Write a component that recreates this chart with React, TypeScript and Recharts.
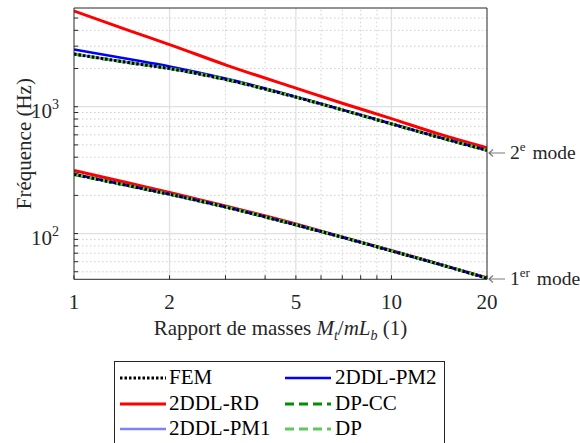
import React from "react";
import { LineChart, Line, XAxis, YAxis, ReferenceLine } from "recharts";

// rapport de masses Mt/mLb
const massRatio = [1, 1.5, 2, 3, 5, 7, 10, 14, 20];

// 1er mode (Hz)
const femMode1 = [293, 237, 204, 162, 117, 93.5, 73, 57.7, 44.5];
const rdMode1 = [314, 249, 211, 165, 119, 94, 73.5, 58, 44.7];
const pm1Mode1 = [293, 237, 204, 162, 117, 93.5, 73, 57.7, 44.5];
const pm2Mode1 = [294, 237, 204, 162, 117, 93.5, 73, 57.7, 44.5];
const dpccMode1 = [293, 237, 204, 162, 117, 93.5, 73, 57.7, 44.5];
const dpMode1 = [293, 237, 204, 162, 117, 93.5, 73, 57.7, 44.5];

// 2e mode (Hz)
const femMode2 = [2600, 2220, 2000, 1640, 1190, 944, 732, 577, 453];
const rdMode2 = [5680, 3960, 3090, 2140, 1400, 1065, 805, 613, 475];
const pm1Mode2 = [2600, 2220, 2000, 1640, 1190, 944, 732, 577, 453];
const pm2Mode2 = [2830, 2370, 2080, 1670, 1200, 948, 735, 578, 454];
const dpccMode2 = [2600, 2220, 2000, 1640, 1190, 944, 732, 577, 453];
const dpMode2 = [2600, 2220, 2000, 1640, 1190, 944, 732, 577, 453];

const xTicks = [1, 2, 3, 4, 5, 6, 7, 8, 9, 10, 20];
const xTickLabels = [1, 2, 5, 10, 20];
const yTicks = [50, 60, 70, 80, 90, 100, 200, 300, 400, 500, 600, 700, 800, 900, 1000, 2000, 3000, 4000, 5000];
const yTickLabels = [100, 1000];

const xMajorGrid = [2, 5, 10];
const xMinorGrid = [3, 4, 6, 7, 8, 9];
const yMajorGrid = [100, 1000];
const yMinorGrid = [50, 60, 70, 80, 90, 200, 300, 400, 500, 600, 700, 800, 900, 2000, 3000, 4000, 5000];

const data = massRatio.map((x, i) => ({
  x,
  fem1: femMode1[i],
  fem2: femMode2[i],
  rd1: rdMode1[i],
  rd2: rdMode2[i],
  pm11: pm1Mode1[i],
  pm12: pm1Mode2[i],
  pm21: pm2Mode1[i],
  pm22: pm2Mode2[i],
  dpcc1: dpccMode1[i],
  dpcc2: dpccMode2[i],
  dp1: dpMode1[i],
  dp2: dpMode2[i],
}));

type Serie = { key: string; name: string; color: string; width: number; dash?: string };

// drawing order (FEM last so the dots sit on top)
const series: Serie[] = [
  { key: "rd", name: "2DDL-RD", color: "#ff0000", width: 3 },
  { key: "pm1", name: "2DDL-PM1", color: "#8080ff", width: 2.5 },
  { key: "pm2", name: "2DDL-PM2", color: "#0000ff", width: 2.5 },
  { key: "dpcc", name: "DP-CC", color: "#008f00", width: 3, dash: "9 5" },
  { key: "dp", name: "DP", color: "#5fc85f", width: 3, dash: "9 5" },
  { key: "fem", name: "FEM", color: "#000000", width: 3, dash: "2.5 2" },
];

const legendCols = [
  ["fem", "rd", "pm1"],
  ["pm2", "dpcc", "dp"],
];

const FONT = '"Liberation Serif", "Times New Roman", serif';
const INK = "#262626";

const YTick = (props: any) => {
  const { x, y, payload } = props;
  if (!yTickLabels.includes(payload.value)) return null;
  const exp = Math.round(Math.log10(payload.value));
  return (
    <text x={x} y={y + 11} textAnchor="end" fontSize={21} fill={INK} fontFamily={FONT}>
      10<tspan dy={-9} fontSize={14}>{exp}</tspan>
    </text>
  );
};

const YLabel = (props: any) => {
  const vb = props.viewBox || { x: 0, y: 0, width: 74, height: 271 };
  const cx = vb.x + 31.5;
  const cy = vb.y + vb.height / 2;
  return (
    <text
      x={cx}
      y={cy}
      textAnchor="middle"
      fontSize={21}
      fill={INK}
      fontFamily={FONT}
      transform={`rotate(-90, ${cx}, ${cy})`}
    >
      Fréquence (Hz)
    </text>
  );
};

const XLabel = (props: any) => {
  const vb = props.viewBox || { x: 74, y: 279, width: 413, height: 60 };
  const cx = vb.x + vb.width / 2;
  const y = vb.y + 56;
  return (
    <text x={cx} y={y} textAnchor="middle" fontSize={21} fill={INK} fontFamily={FONT}>
      Rapport de masses <tspan fontStyle="italic">M</tspan>
      <tspan fontStyle="italic" fontSize={14} dy={5}>t</tspan>
      <tspan dy={-5}>/</tspan>
      <tspan fontStyle="italic">mL</tspan>
      <tspan fontStyle="italic" fontSize={14} dy={5}>b</tspan>
      <tspan dy={-5}> (1)</tspan>
    </text>
  );
};

function LegendBox() {
  const rowY = [16, 42, 67];
  const colX = [{ line: 5, text: 54 }, { line: 170, text: 220 }];
  return (
    <div
      style={{
        position: "absolute",
        left: 114,
        top: 361,
        width: 329,
        height: 100,
        border: `1px solid ${INK}`,
        background: "#fff",
      }}
    >
      {legendCols.map((col, ci) =>
        col.map((key, ri) => {
          const s = series.find((d) => d.key === key)!;
          return (
            <React.Fragment key={key}>
              <svg
                width={46}
                height={8}
                style={{ position: "absolute", left: colX[ci].line, top: rowY[ri] - 4 }}
              >
                <line
                  x1={0}
                  y1={4}
                  x2={46}
                  y2={4}
                  stroke={s.color}
                  strokeWidth={s.width}
                  strokeDasharray={s.dash}
                />
              </svg>
              <div
                style={{
                  position: "absolute",
                  left: colX[ci].text,
                  top: rowY[ri] - 10.6,
                  fontSize: 21,
                  lineHeight: "21px",
                  fontFamily: FONT,
                  color: "#000",
                  whiteSpace: "nowrap",
                }}
              >
                {s.name}
              </div>
            </React.Fragment>
          );
        })
      )}
    </div>
  );
}

function ModeNotes() {
  const notes = [
    { arrowY: 153, num: "2", sup: "e" },
    { arrowY: 279, num: "1", sup: "er" },
  ];
  return (
    <svg width={580} height={443} style={{ position: "absolute", left: 0, top: 0, pointerEvents: "none" }}>
      {notes.map((n) => (
        <g key={n.num} fontFamily={FONT}>
          <path
            d={`M489 ${n.arrowY} H505 M493 ${n.arrowY - 3.5} L489 ${n.arrowY} L493 ${n.arrowY + 3.5}`}
            stroke="#7a7a7a"
            strokeWidth={1.2}
            fill="none"
          />
          <text x={510} y={n.arrowY + 6} fontSize={19.5} fill={INK}>
            {n.num}
            <tspan dy={-8} fontSize={13}>{n.sup}</tspan>
            <tspan dy={8} dx={2}> mode</tspan>
          </text>
        </g>
      ))}
    </svg>
  );
}

export default function App() {
  return (
    <div
      style={{
        position: "absolute",
        left: 0,
        top: 0,
        width: 580,
        height: 443,
        overflow: "hidden",
        background: "#fff",
        fontFamily: FONT,
      }}
    >
      <LineChart width={580} height={443} data={data} margin={{ top: 7, right: 92, bottom: 103.7, left: 0 }}>
        <XAxis
          dataKey="x"
          type="number"
          scale="log"
          domain={[1, 20]}
          ticks={xTicks}
          interval={0}
          tickFormatter={(v: number) => (xTickLabels.includes(v) ? String(v) : "")}
          tickSize={-4}
          tickMargin={19}
          height={60}
          stroke={INK}
          tick={{ fill: INK, fontSize: 21, fontFamily: FONT }}
          allowDataOverflow
          label={<XLabel />}
        />
        <XAxis
          xAxisId="top"
          dataKey="x"
          type="number"
          scale="log"
          domain={[1, 20]}
          ticks={xTicks}
          interval={0}
          orientation="top"
          height={1}
          tickSize={-4}
          tick={false}
          stroke={INK}
          allowDataOverflow
        />
        <YAxis
          type="number"
          scale="log"
          domain={[43.6, 6000]}
          ticks={yTicks}
          interval={0}
          width={74}
          tickSize={-4}
          tickMargin={19}
          stroke={INK}
          tick={YTick}
          allowDataOverflow
          label={<YLabel />}
        />
        <YAxis
          yAxisId="r"
          type="number"
          scale="log"
          domain={[43.6, 6000]}
          ticks={yTicks}
          interval={0}
          orientation="right"
          width={1}
          tickSize={-4}
          tick={false}
          stroke={INK}
          allowDataOverflow
        />
        {xMinorGrid.map((v) => (
          <ReferenceLine key={`xm${v}`} x={v} stroke="#cfcfcf" strokeDasharray="1.5 2.5" />
        ))}
        {yMinorGrid.map((v) => (
          <ReferenceLine key={`ym${v}`} y={v} stroke="#cfcfcf" strokeDasharray="1.5 2.5" />
        ))}
        {xMajorGrid.map((v) => (
          <ReferenceLine key={`xM${v}`} x={v} stroke="#e0e0e0" strokeWidth={1.3} />
        ))}
        {yMajorGrid.map((v) => (
          <ReferenceLine key={`yM${v}`} y={v} stroke="#e0e0e0" strokeWidth={1.3} />
        ))}
        {series.flatMap((s) =>
          [1, 2].map((m) => (
            <Line
              key={`${s.key}${m}`}
              dataKey={`${s.key}${m}`}
              name={s.name}
              type="monotone"
              stroke={s.color}
              strokeWidth={s.width}
              strokeDasharray={s.dash}
              dot={false}
              activeDot={false}
              isAnimationActive={false}
            />
          ))
        )}
      </LineChart>
      <ModeNotes />
      <LegendBox />
    </div>
  );
}
